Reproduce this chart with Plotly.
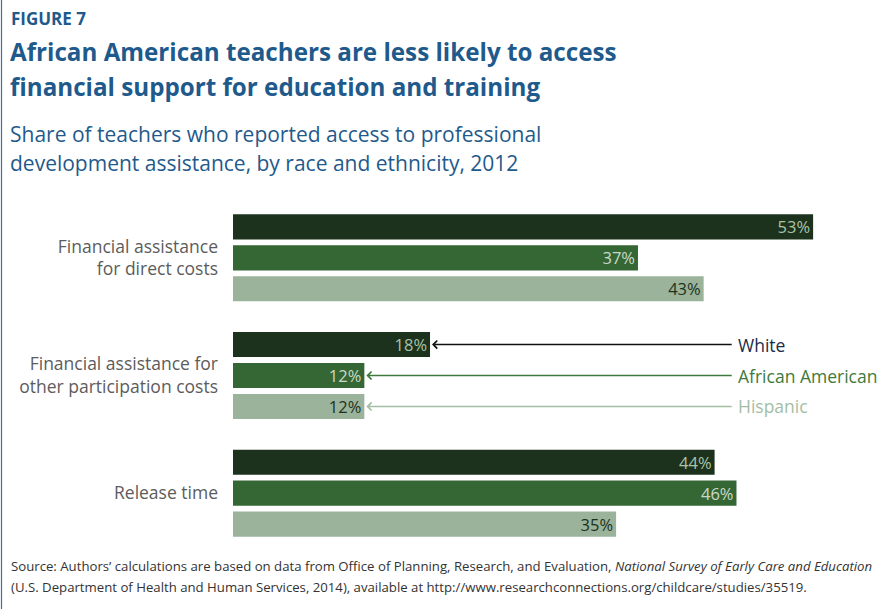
import plotly.graph_objects as go

# Data
categories = [
    "Financial assistance<br>for direct costs",
    "Financial assistance for<br>other participation costs",
    "Release time",
]
series_names = ["White", "African American", "Hispanic"]
white = [53, 18, 44]
african_american = [37, 12, 46]
hispanic = [43, 12, 35]

title_lines = [
    "African American teachers are less likely to access",
    "financial support for education and training",
]
subtitle_lines = [
    "Share of teachers who reported access to professional",
    "development assistance, by race and ethnicity, 2012",
]
source_lines = [
    "Source: Authors’ calculations are based on data from Office of Planning, Research, "
    "and Evaluation, <i>National Survey of Early Care and Education</i>",
    "(U.S. Department of Health and Human Services, 2014), available at "
    "http://www.researchconnections.org/childcare/studies/35519.",
]

bar_colors = ["#1c321c", "#356734", "#9bb39b"]
value_text_colors = ["#a9c2a9", "#c9d9c9", "#1c321c"]
label_colors = ["#1b2b48", "#3d7a3d", "#a3bea3"]
arrow_colors = ["#111111", "#3d7a3d", "#a3bea3"]

W, H = 885, 609
L, R, T, B = 233, 50, 199, 57
X_MAX = 55
BARGAP = 0.21

FONT = "Open Sans"
BLUE = "#1f5a8c"

fig = go.Figure()
for name, vals, col, tcol in zip(series_names, [white, african_american, hispanic],
                                 bar_colors, value_text_colors):
    fig.add_trace(go.Bar(
        y=categories, x=vals, name=name, orientation="h",
        marker=dict(color=col, line=dict(width=0)),
        text=[f"{v}%" for v in vals], textposition="inside",
        insidetextanchor="end", textangle=0, constraintext="none",
        textfont=dict(family=FONT, size=16.5, color=tcol),
        hoverinfo="skip",
    ))

plot_w = W - L - R


def px_x(x):
    return (x - L) / plot_w


def px_y(y):
    return 1 - (y - T) / (H - T - B)


def text_line(x, y, text, size, color, bold=False):
    if bold:
        text = f"<b>{text}</b>"
    return dict(x=px_x(x), y=px_y(y), xref="paper", yref="paper",
                xanchor="left", yanchor="middle", text=text, showarrow=False,
                font=dict(family=FONT, size=size, color=color))


annotations = []
# Callout labels pointing at the middle group's bars
slot = (1 - BARGAP) / 3
mid = 1
for i, (name, vals) in enumerate(zip(series_names, [white, african_american, hispanic])):
    yv = mid + (i - 1) * slot
    annotations.append(dict(
        x=vals[mid], y=yv, xref="x", yref="y",
        ax=45.7, ay=yv, axref="x", ayref="y",
        text="", showarrow=True, arrowhead=4, arrowsize=1.1,
        arrowwidth=1.4, arrowcolor=arrow_colors[i], standoff=2,
    ))
    annotations.append(dict(
        x=46.0, y=yv, xref="x", yref="y", xanchor="left", yanchor="middle",
        text=name, showarrow=False,
        font=dict(family=FONT, size=17.5, color=label_colors[i]),
    ))

# Titles and source note
annotations.append(text_line(9, 18, "FIGURE 7", 17, BLUE, bold=True))
for k, line in enumerate(title_lines):
    annotations.append(text_line(8, 52 + 34 * k, line, 24.2, BLUE, bold=True))
for k, line in enumerate(subtitle_lines):
    annotations.append(text_line(8, 134 + 29 * k, line, 21, BLUE))
for k, line in enumerate(source_lines):
    annotations.append(text_line(9, 566 + 21 * k, line, 13.2, "#333333"))

fig.update_layout(
    width=W, height=H,
    margin=dict(l=L, r=R, t=T, b=B, pad=0),
    paper_bgcolor="white", plot_bgcolor="white",
    barmode="group", bargap=BARGAP, bargroupgap=0.19,
    showlegend=False,
    xaxis=dict(range=[0, X_MAX], visible=False, fixedrange=True),
    yaxis=dict(autorange="reversed", showgrid=False, zeroline=False, showline=False,
               ticks="", ticklabelstandoff=14,
               tickfont=dict(family=FONT, size=17.5, color="#5c5c5c")),
    annotations=annotations,
    shapes=[dict(type="line", xref="paper", yref="paper",
                 x0=px_x(1.5), x1=px_x(1.5), y0=px_y(0), y1=px_y(H),
                 line=dict(color="#3d6fa3", width=1.2))],
)

fig.write_html("out.html")
